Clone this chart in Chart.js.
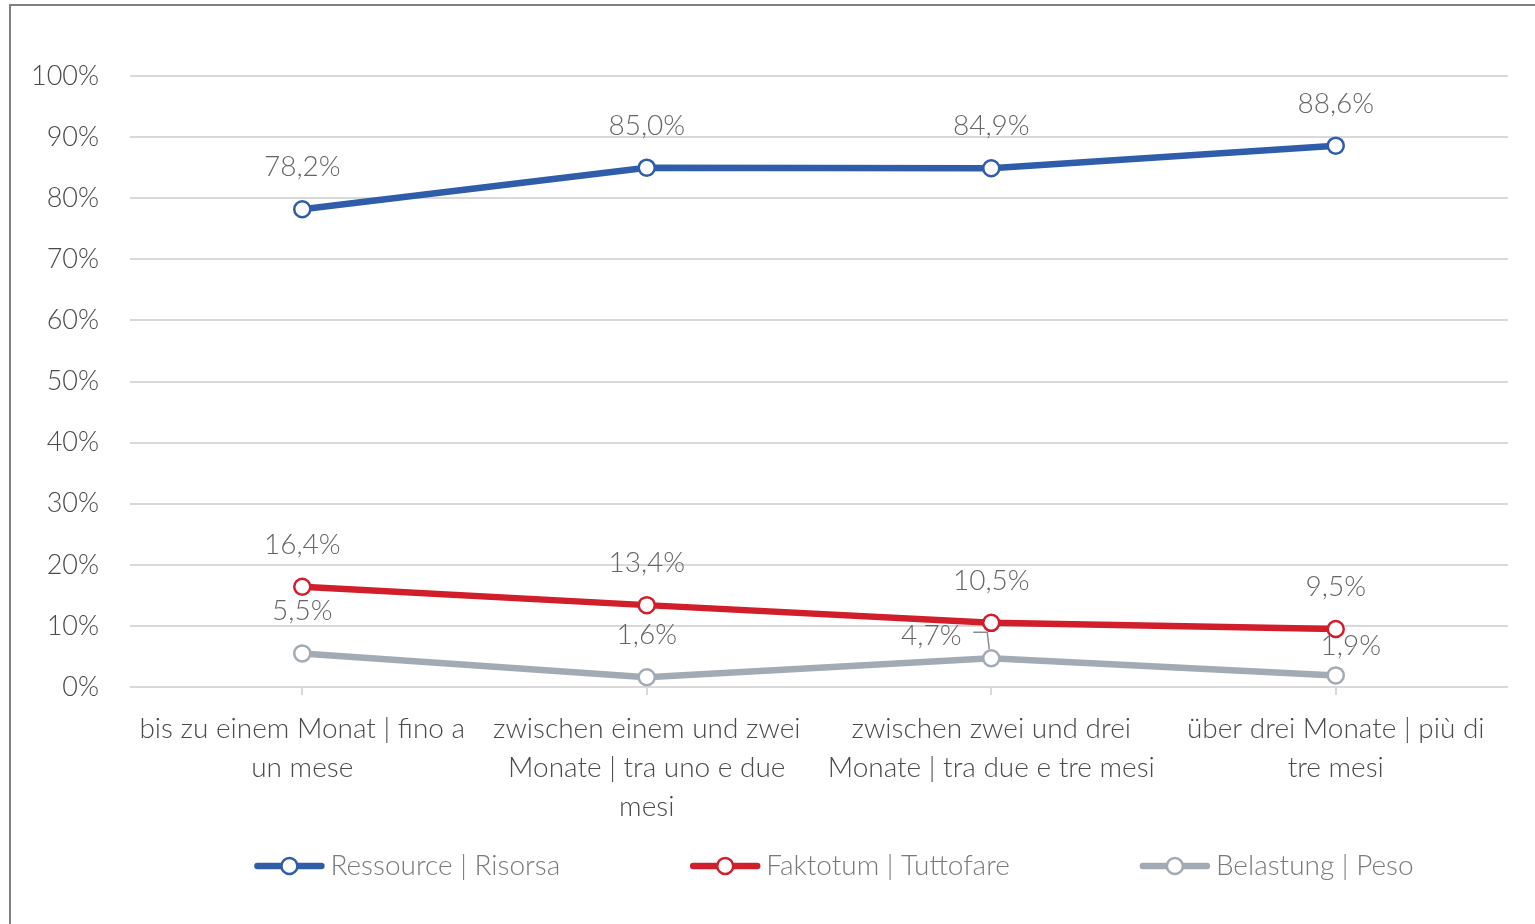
<!DOCTYPE html>
<html><head><meta charset="utf-8">
<script src="https://cdn.jsdelivr.net/npm/chart.js@4.4.1/dist/chart.umd.min.js"></script>
<style>
html,body{margin:0;padding:0;background:#fff;overflow:hidden;width:1535px;height:924px}
#frame{position:absolute;left:9px;top:4px;width:1600px;height:1000px;border:2px solid #808080;box-sizing:border-box}
#wrap{position:absolute;left:0;top:0;width:1535px;height:924px}
</style></head><body>
<div id="frame"></div>
<div id="wrap"><canvas id="c" width="1535" height="924"></canvas></div>
<script>
// ---- data ----
const categories = [
  ["bis zu einem Monat | fino a", "un mese"],
  ["zwischen einem und zwei", "Monate | tra uno e due", "mesi"],
  ["zwischen zwei und drei", "Monate | tra due e tre mesi"],
  ["über drei Monate | più di", "tre mesi"]
];
const seriesNames = ["Ressource | Risorsa", "Faktotum | Tuttofare", "Belastung | Peso"];
const ressource = [78.2, 85.0, 84.9, 88.6];
const faktotum = [16.4, 13.4, 10.5, 9.5];
const belastung = [5.5, 1.6, 4.7, 1.9];
const yMin = 0, yMax = 100, yStep = 10;

// ---- styles ----
const FONT = "Lato, 'Source Sans Pro', 'Noto Sans', sans-serif";
const colors = ["#2f5da9", "#d01f2b", "#a2aab3"];
const defaultPlace = {dx: 0, dy: -42};
const grayPlace = [defaultPlace, defaultPlace, {dx: -60, dy: -22, leader: true}, {dx: 15, dy: -29}];

const fmt = v => v.toFixed(1).replace('.', ',') + '%';

const labelPlugin = {
  id: 'valueLabels',
  afterDatasetsDraw(chart) {
    const ctx = chart.ctx;
    ctx.save();
    ctx.font = '300 28px ' + FONT;
    ctx.fillStyle = '#666';
    ctx.textAlign = 'center';
    ctx.textBaseline = 'middle';
    chart.data.datasets.forEach((ds, di) => {
      const meta = chart.getDatasetMeta(di);
      meta.data.forEach((pt, i) => {
        const pl = (ds.labelPlace && ds.labelPlace[i]) || defaultPlace;
        ctx.fillText(fmt(ds.data[i]), pt.x + pl.dx, pt.y + pl.dy);
        if (pl.leader) {
          ctx.strokeStyle = '#8a8a8a';
          ctx.lineWidth = 1.5;
          ctx.beginPath();
          ctx.moveTo(pt.x - 18, pt.y - 26);
          ctx.lineTo(pt.x - 4, pt.y - 26);
          ctx.lineTo(pt.x - 2, pt.y - 9);
          ctx.stroke();
        }
      });
    });
    ctx.restore();
  }
};

const legendPlugin = {
  id: 'bottomLegend',
  afterDraw(chart) {
    const ctx = chart.ctx;
    ctx.save();
    ctx.font = '300 28px ' + FONT;
    const lineW = 70, gapText = 6, gapItem = 130;
    const items = chart.data.datasets.map(ds => ({ds, w: ctx.measureText(ds.label).width}));
    const total = items.reduce((s, it) => s + lineW + gapText + it.w, 0) + gapItem * (items.length - 1);
    let x = (chart.chartArea.left + chart.chartArea.right) / 2 - total / 2 + 15;
    const y = chart.height - 58;
    items.forEach(it => {
      const c = it.ds.borderColor;
      ctx.strokeStyle = c;
      ctx.lineWidth = 6.5;
      ctx.lineCap = 'round';
      ctx.beginPath();
      ctx.moveTo(x + 3, y);
      ctx.lineTo(x + lineW - 3, y);
      ctx.stroke();
      ctx.beginPath();
      ctx.arc(x + lineW / 2, y, 8, 0, Math.PI * 2);
      ctx.fillStyle = '#fff';
      ctx.fill();
      ctx.lineWidth = 2.5;
      ctx.stroke();
      ctx.fillStyle = '#7a7a7a';
      ctx.textAlign = 'left';
      ctx.textBaseline = 'middle';
      ctx.fillText(it.ds.label, x + lineW + gapText, y);
      x += lineW + gapText + it.w + gapItem;
    });
    ctx.restore();
  }
};

const mk = (label, data, color, place) => ({
  label, data,
  borderColor: color,
  backgroundColor: color,
  borderWidth: 6.5,
  pointRadius: 8,
  pointHoverRadius: 8,
  pointBackgroundColor: '#fff',
  pointBorderColor: color,
  pointBorderWidth: 2.5,
  tension: 0,
  labelPlace: place
});

new Chart(document.getElementById('c'), {
  type: 'line',
  data: {
    labels: categories,
    datasets: [
      mk(seriesNames[0], ressource, colors[0]),
      mk(seriesNames[1], faktotum, colors[1]),
      mk(seriesNames[2], belastung, colors[2], grayPlace)
    ]
  },
  options: {
    responsive: false,
    animation: false,
    devicePixelRatio: 1,
    layout: {padding: {top: 76, left: 0, right: 27, bottom: 94}},
    plugins: {legend: {display: false}, tooltip: {enabled: false}},
    scales: {
      x: {
        type: 'category',
        offset: true,
        afterFit: s => { s.height = 143; },
        border: {display: false},
        grid: {drawOnChartArea: false, drawTicks: true, tickLength: 8, color: '#d9d9d9', lineWidth: 2, offset: false},
        ticks: {padding: 14, color: '#4a4a4a', maxRotation: 0, autoSkip: false,
          font: {family: FONT, size: 28, weight: 300, lineHeight: 1.4}}
      },
      y: {
        min: yMin, max: yMax,
        afterFit: s => { s.width = 130; },
        border: {display: false},
        grid: {color: '#d9d9d9', lineWidth: 2, drawTicks: false},
        ticks: {stepSize: yStep, padding: 31, color: '#4a4a4a',
          callback: v => v + '%',
          font: {family: FONT, size: 27, weight: 300}}
      }
    }
  },
  plugins: [labelPlugin, legendPlugin]
});
</script>
</body></html>
